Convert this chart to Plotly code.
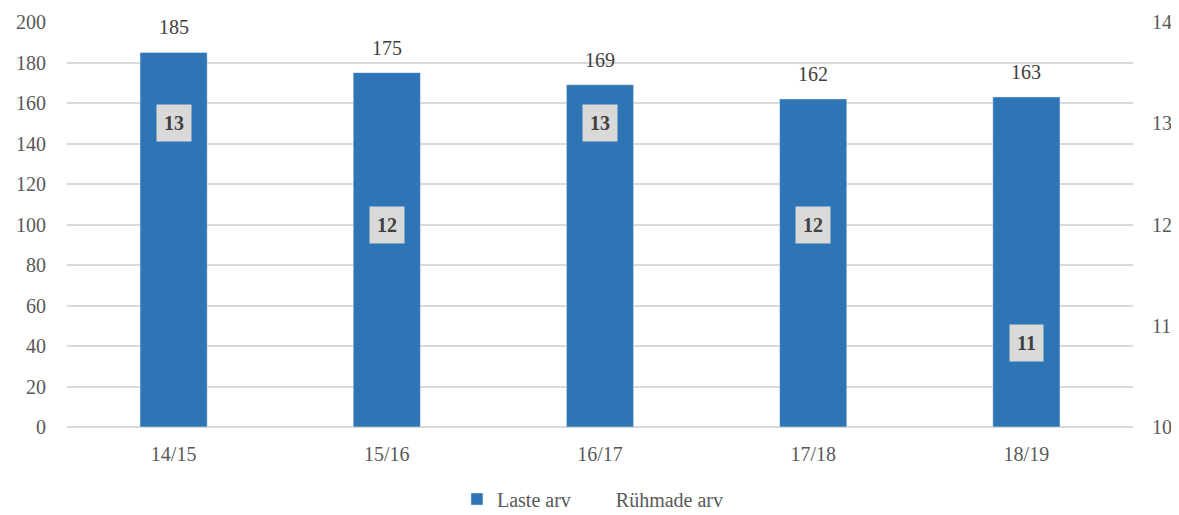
import plotly.graph_objects as go

categories = ["14/15", "15/16", "16/17", "17/18", "18/19"]
laste_arv = [185, 175, 169, 162, 163]
ruhmade_arv = [13, 12, 13, 12, 10.83]

FONT = "Liberation Serif"
GREY = "#595959"
FS = 20

fig = go.Figure()
fig.add_trace(go.Bar(
    x=categories, y=laste_arv, name="Laste arv",
    marker=dict(color="#2e75b6"), width=0.315,
))
fig.add_trace(go.Scatter(
    x=categories, y=ruhmade_arv, name="Rühmade arv", yaxis="y2",
    mode="lines", line=dict(color="rgba(0,0,0,0)"),
))

for c, v in zip(categories, laste_arv):
    fig.add_annotation(
        x=c, y=v, xref="x", yref="y", text=str(v), showarrow=False,
        yanchor="bottom", yshift=12,
        font=dict(family=FONT, size=FS, color="#404040"),
    )

for c, v in zip(categories, ruhmade_arv):
    fig.add_annotation(
        x=c, y=v, xref="x", yref="y2", text=f"<b>{v:.0f}</b>",
        showarrow=False, bgcolor="#d9d9d9", borderpad=7,
        font=dict(family=FONT, size=FS, color="#404040"),
    )

# page body has an 8px margin, so the figure is sized to fit the window
fig.update_layout(
    width=1171, height=507,
    margin=dict(l=59, r=46, t=14, b=88, autoexpand=False),
    plot_bgcolor="white", paper_bgcolor="white",
    font=dict(family=FONT, size=FS, color=GREY),
    bargap=0.685,
    showlegend=True,
    legend=dict(orientation="h", x=0.4934, xanchor="center", y=-0.178, yanchor="middle",
                font=dict(family=FONT, size=FS, color=GREY), itemwidth=30),
    xaxis=dict(showgrid=False, showline=False, ticks="", ticklabelstandoff=13),
    yaxis=dict(range=[0, 200], dtick=20, gridcolor="#d9d9d9", gridwidth=2,
               zeroline=True, zerolinecolor="#d9d9d9", zerolinewidth=2,
               showline=False, ticks="", ticklabelstandoff=20),
    yaxis2=dict(range=[10, 14], dtick=1, overlaying="y", side="right",
                showgrid=False, zeroline=False, showline=False, ticks="",
                ticklabelstandoff=18),
)

fig.write_html("out.html")
